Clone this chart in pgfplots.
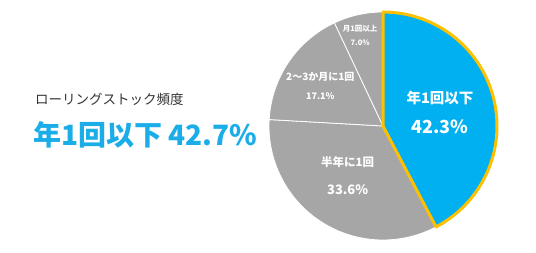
\documentclass[border=0pt]{standalone}
\usepackage{pgfplots}
\pgfplotsset{compat=1.18}
\usepackage{fontspec}
\setmainfont{Noto Sans CJK JP}
\definecolor{piblue}{HTML}{00B0F0}
\definecolor{pigray}{HTML}{A6A6A6}
\definecolor{pigold}{HTML}{FFC000}
\definecolor{headblue}{HTML}{1AADE8}
\definecolor{txtgray}{HTML}{333333}
\begin{document}
\begin{tikzpicture}
\path[use as bounding box] (0pt,0pt) rectangle (536pt,252pt);
\node[anchor=west, inner sep=0pt, text=txtgray, font=\fontsize{13.5}{13.5}\selectfont] at (35pt,153pt) {ローリングストック頻度};
\node[anchor=west, inner sep=0pt, text=headblue, font=\fontsize{28}{28}\selectfont\bfseries] at (33pt,117pt) {年1回以下 42.7\%};
\begin{axis}[at={(383pt,126pt)}, anchor=origin, width=228pt, height=228pt, scale only axis, hide axis,
  xmin=-1, xmax=1, ymin=-1, ymax=1, clip=false]
% slices as percentages, clockwise from 12 o'clock: 42.3, 33.6, 17.1, 7.0
\addplot[draw=white, line width=0.8pt, fill=pigray, domain=42.3:75.9, samples=80, variable=\t]
  ({sin(3.6*\t)},{cos(3.6*\t)}) -- (axis cs:0,0) -- cycle;
\addplot[draw=white, line width=0.8pt, fill=pigray, domain=75.9:93.0, samples=50, variable=\t]
  ({sin(3.6*\t)},{cos(3.6*\t)}) -- (axis cs:0,0) -- cycle;
\addplot[draw=white, line width=0.8pt, fill=pigray, domain=93.0:100.0, samples=30, variable=\t]
  ({sin(3.6*\t)},{cos(3.6*\t)}) -- (axis cs:0,0) -- cycle;
\addplot[draw=pigold, line width=3pt, line join=round, fill=piblue, domain=0:42.3, samples=100, variable=\t]
  ({sin(3.6*\t)},{cos(3.6*\t)}) -- (axis cs:0,0) -- cycle;
\node[text=white, font=\fontsize{14.5}{14.5}\selectfont\bfseries] at (axis cs:0.50,0.25) {年1回以下};
\node[text=white, font=\fontsize{18}{18}\selectfont\bfseries] at (axis cs:0.50,-0.01) {42.3\%};
\node[text=white, font=\fontsize{11.5}{11.5}\selectfont\bfseries] at (axis cs:-0.31,-0.32) {半年に1回};
\node[text=white, font=\fontsize{13}{13}\selectfont\bfseries] at (axis cs:-0.31,-0.56) {33.6\%};
\node[text=white, font=\fontsize{10}{10}\selectfont\bfseries] at (axis cs:-0.55,0.43) {2〜3か月に1回};
\node[text=white, font=\fontsize{9}{9}\selectfont\bfseries] at (axis cs:-0.55,0.26) {17.1\%};
\node[text=white, font=\fontsize{7.5}{7.5}\selectfont\bfseries] at (axis cs:-0.20,0.85) {月1回以上};
\node[text=white, font=\fontsize{7.5}{7.5}\selectfont\bfseries] at (axis cs:-0.20,0.73) {7.0\%};
\end{axis}
\end{tikzpicture}
\end{document}
